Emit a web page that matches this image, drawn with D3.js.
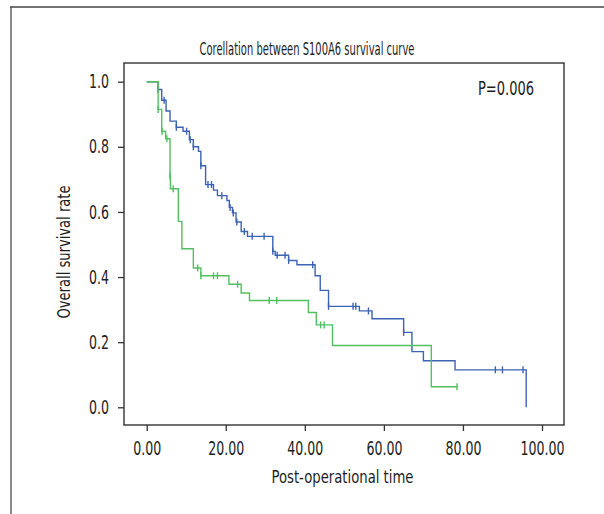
<!DOCTYPE html>
<html>
<head>
<meta charset="utf-8">
<script src="https://cdn.jsdelivr.net/npm/d3@7"></script>
<style>
  body { margin: 0; background: #fff; }
  text { font-family: 'DejaVu Sans Condensed', 'DejaVu Sans', sans-serif; fill: #1e1e1e; }
</style>
</head>
<body>
<script>
// survival steps: time of drop and survival after it
const blueTimes = [0, 2.9, 3.8, 4.9, 5.9, 7.5, 9.2, 10.8, 11.8, 13.1, 13.7, 14.9, 16.9, 17.9, 20.3, 20.9, 21.7, 22.6, 23.9, 25.5, 31.9, 32.5, 35.9, 38.0, 42.6, 43.9, 46.0, 53.8, 57.0, 65.0, 67.1, 70.0, 78.0, 96.0];
const blueSurv  = [1, 0.976, 0.943, 0.91, 0.879, 0.86, 0.848, 0.822, 0.80, 0.786, 0.742, 0.684, 0.667, 0.65, 0.635, 0.614, 0.597, 0.569, 0.54, 0.525, 0.479, 0.467, 0.451, 0.438, 0.404, 0.359, 0.31, 0.296, 0.272, 0.23, 0.171, 0.143, 0.115, 0];
const blueCensor = [2.9, 4.4, 7.5, 10.1, 11.0, 11.8, 13.7, 15.5, 16.4, 19.0, 21.1, 21.9, 22.8, 24.7, 26.7, 29.7, 31.9, 33.0, 35.0, 35.9, 42.0, 46.0, 52.2, 52.9, 56.1, 65.0, 88.2, 90.0, 95.2];
const blueEnd = 96.0;

const greenTimes = [0, 2.9, 3.8, 4.8, 5.9, 6.0, 8.0, 8.9, 11.8, 13.7, 20.8, 23.9, 26.0, 40.9, 42.9, 47.0, 72.0];
const greenSurv  = [1, 0.915, 0.848, 0.825, 0.71, 0.671, 0.571, 0.487, 0.428, 0.404, 0.378, 0.351, 0.328, 0.291, 0.253, 0.19, 0.063];
const greenCensor = [2.9, 3.9, 5.1, 5.9, 6.7, 12.9, 13.7, 16.9, 17.9, 23.0, 31.0, 32.9, 44.0, 44.9, 78.5];
const greenEnd = 78.5;

const xTicks = [0, 20, 40, 60, 80, 100];
const yTicks = [0, 0.2, 0.4, 0.6, 0.8, 1.0];

const W = 604, H = 514;
const svg = d3.select('body').append('svg')
    .attr('width', W)
    .attr('height', H);

// outer frame (left + top only)
svg.append('line')
    .attr('x1', 11).attr('y1', 7).attr('x2', 11).attr('y2', H)
    .attr('stroke', '#8a8a8a').attr('stroke-width', 2);
svg.append('line')
    .attr('x1', 10).attr('y1', 7).attr('x2', W).attr('y2', 7)
    .attr('stroke', '#444').attr('stroke-width', 1.5);

const x = d3.scaleLinear().domain([0, 100]).range([146.7, 542]);
const y = d3.scaleLinear().domain([0, 1]).range([407.3, 81.7]);

const box = {left: 124, top: 63, right: 564, bottom: 425};

svg.append('rect')
    .attr('x', box.left).attr('y', box.top)
    .attr('width', box.right - box.left).attr('height', box.bottom - box.top)
    .attr('fill', 'none').attr('stroke', '#333').attr('stroke-width', 1.4);

const xAxis = svg.append('g')
    .attr('transform', 'translate(0,' + box.bottom + ')')
    .call(d3.axisBottom(x).tickValues(xTicks).tickFormat(d3.format('.2f')).tickSize(6).tickPadding(10.5));
const yAxis = svg.append('g')
    .attr('transform', 'translate(' + box.left + ',0)')
    .call(d3.axisLeft(y).tickValues(yTicks).tickFormat(d3.format('.1f')).tickSize(6).tickPadding(9));

// squeeze text to look like the narrow font of the original
function squeeze(sel, k) {
    sel.each(function() {
        const w = this.getComputedTextLength();
        d3.select(this)
            .attr('textLength', w * k)
            .attr('lengthAdjust', 'spacingAndGlyphs');
    });
}

[xAxis, yAxis].forEach(a => {
    a.select('.domain').remove();
    a.selectAll('line').attr('stroke', '#333').attr('stroke-width', 1.3);
    a.selectAll('text').attr('font-size', 19).attr('fill', '#1e1e1e')
        .attr('font-family', null);
});
const refW = xAxis.select('text').node().getComputedTextLength();
squeeze(xAxis.selectAll('text'), 28 / refW);
squeeze(yAxis.selectAll('text'), 28 / refW);

function survAt(times, surv, t) {
    let s = surv[0];
    times.forEach((tt, i) => { if (tt <= t) s = surv[i]; });
    return s;
}

const line = d3.line()
    .x(d => x(d[0]))
    .y(d => y(d[1]))
    .curve(d3.curveStepAfter);

function drawCurve(times, surv, endT, censor, color) {
    const pts = times.map((t, i) => [t, surv[i]]);
    if (endT > times[times.length - 1]) pts.push([endT, surv[surv.length - 1]]);
    svg.append('path')
        .datum(pts)
        .attr('d', line)
        .attr('fill', 'none')
        .attr('stroke', color)
        .attr('stroke-width', 1.4);
    svg.selectAll(null)
        .data(censor)
        .enter()
        .append('line')
        .attr('x1', d => x(d)).attr('x2', d => x(d))
        .attr('y1', d => y(survAt(times, surv, d)) - 3.5)
        .attr('y2', d => y(survAt(times, surv, d)) + 3.5)
        .attr('stroke', color)
        .attr('stroke-width', 1.4);
}

drawCurve(blueTimes, blueSurv, blueEnd, blueCensor, '#3d63b3');
drawCurve(greenTimes, greenSurv, greenEnd, greenCensor, '#52c060');

svg.append('text')
    .attr('x', 307).attr('y', 55)
    .attr('text-anchor', 'middle')
    .attr('font-size', 17)
    .attr('textLength', 215).attr('lengthAdjust', 'spacingAndGlyphs')
    .text('Corellation between S100A6 survival curve');

svg.append('text')
    .attr('x', 478).attr('y', 95)
    .attr('font-size', 19)
    .attr('textLength', 56).attr('lengthAdjust', 'spacingAndGlyphs')
    .text('P=0.006');

svg.append('text')
    .attr('x', 342.5).attr('y', 483)
    .attr('text-anchor', 'middle')
    .attr('font-size', 18)
    .attr('textLength', 142).attr('lengthAdjust', 'spacingAndGlyphs')
    .text('Post-operational time');

svg.append('text')
    .attr('transform', 'translate(70,252) rotate(-90)')
    .attr('text-anchor', 'middle')
    .attr('font-size', 18)
    .attr('textLength', 133).attr('lengthAdjust', 'spacingAndGlyphs')
    .text('Overall survival rate');
</script>
</body>
</html>
